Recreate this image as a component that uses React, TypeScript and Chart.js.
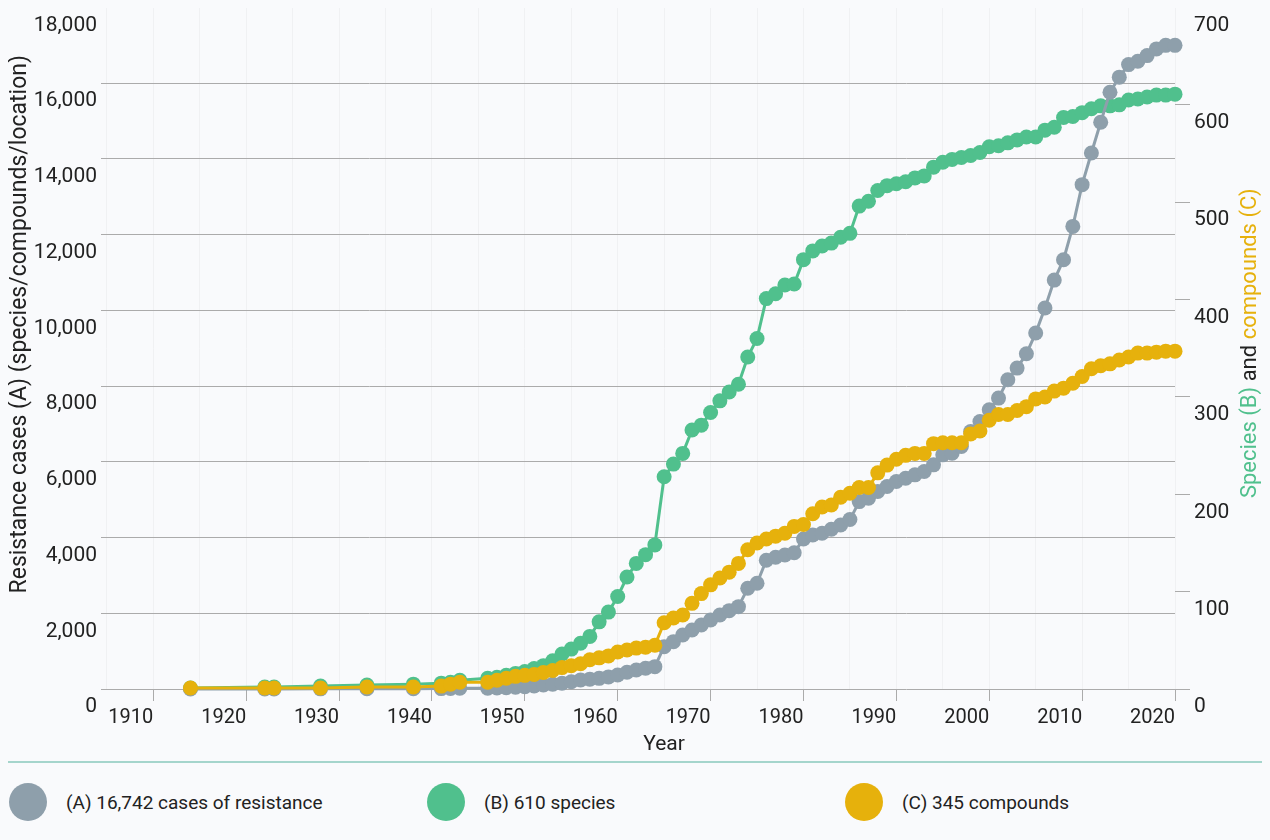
import React, { useEffect, useRef } from 'react';
import { Chart, registerables } from 'chart.js';

Chart.register(...registerables);

// ---------- data ----------
const years = [
  1914, 1922, 1923, 1928, 1933, 1938, 1941, 1942, 1943,
  1946, 1947, 1948, 1949, 1950, 1951, 1952, 1953, 1954, 1955,
  1956, 1957, 1958, 1959, 1960, 1961, 1962, 1963, 1964, 1965,
  1966, 1967, 1968, 1969, 1970, 1971, 1972, 1973, 1974, 1975,
  1976, 1977, 1978, 1979, 1980, 1981, 1982, 1983, 1984, 1985,
  1986, 1987, 1988, 1989, 1990, 1991, 1992, 1993, 1994, 1995,
  1996, 1997, 1998, 1999, 2000, 2001, 2002, 2003, 2004, 2005,
  2006, 2007, 2008, 2009, 2010, 2011, 2012, 2013, 2014, 2015,
  2016, 2017, 2018, 2019, 2020,
];

// (A) cumulative cases of resistance (left axis)
const casesA = [
  1, 2, 3, 4, 5, 7, 10, 14, 18,
  22, 28, 36, 48, 61, 82, 106, 128, 150, 190,
  238, 260, 282, 320, 370, 441, 502, 547, 590, 1118,
  1250, 1427, 1559, 1692, 1824, 1956, 2070, 2175, 2661, 2793,
  3400, 3480, 3541, 3600, 3960, 4070, 4114, 4220, 4330, 4475,
  4950, 5040, 5215, 5348, 5480, 5568, 5656, 5744, 5920, 6185,
  6229, 6404, 6800, 7065, 7374, 7683, 8167, 8476, 8854, 9401,
  10062, 10800, 11338, 12218, 13321, 14158, 14968, 15760, 16160, 16492,
  16580, 16730, 16907, 17000, 17000,
];

// (B) cumulative species (right axis)
const speciesB = [
  1, 2, 2, 3, 4, 5, 6, 7, 9,
  11, 12, 14, 16, 18, 21, 24, 29, 36, 41,
  47, 54, 69, 79, 95, 115, 129, 138, 148, 218,
  231, 242, 266, 271, 284, 296, 305, 313, 341, 360,
  401, 406, 415, 416, 441, 450, 455, 458, 464, 468,
  496, 501, 512, 517, 519, 521, 525, 527, 536, 541,
  544, 546, 548, 551, 557, 558, 561, 564, 567, 567,
  574, 577, 587, 588, 592, 596, 599, 599, 600, 605,
  606, 608, 610, 610, 611,
];

// (C) cumulative compounds (right axis)
const compoundsC = [
  1, 1, 1, 1, 2, 2, 3, 5, 7,
  7, 9, 11, 13, 14, 15, 17, 19, 22, 24,
  26, 30, 32, 34, 38, 40, 42, 43, 45, 68,
  73, 76, 88, 98, 107, 114, 120, 129, 143, 150,
  154, 157, 160, 167, 169, 180, 187, 189, 197, 201,
  207, 207, 222, 230, 236, 240, 242, 242, 252, 253,
  253, 253, 262, 265, 276, 282, 282, 286, 290, 298,
  300, 306, 309, 314, 321, 329, 332, 334, 338, 341,
  345, 345, 346, 347, 347,
];

const xGridYears = [
  1905, 1910, 1915, 1920, 1925, 1930, 1935, 1940, 1945, 1950, 1955, 1960,
  1965, 1970, 1975, 1980, 1985, 1990, 1995, 2000, 2005, 2010, 2015, 2020,
];
const xLabelYears = [1910, 1920, 1930, 1940, 1950, 1960, 1970, 1980, 1990, 2000, 2010, 2020];
const leftTicks = [0, 2000, 4000, 6000, 8000, 10000, 12000, 14000, 16000, 18000];
const rightTicks = [0, 100, 200, 300, 400, 500, 600, 700];

const legendLabels = ['(A) 16,742 cases of resistance', '(B) 610 species', '(C) 345 compounds'];
const xTitle = 'Year';
const leftTitle = 'Resistance cases (A) (species/compounds/location)';
const rightTitleParts = ['Species (B)', ' and ', 'compounds (C)'];

// ---------- style ----------
const GREY = '#8e9fab';
const GREEN = '#50c08d';
const YELLOW = '#e6b10c';
const TEXT = '#222222';
const GRID = '#ababab';
const BG = '#f9fafc';
const FONT = 'Roboto';

const titlesPlugin = {
  id: 'customTitles',
  afterDraw(chart: any) {
    const { ctx, chartArea } = chart;
    const midY = (chartArea.top + chartArea.bottom) / 2;
    ctx.save();
    ctx.fillStyle = TEXT;
    ctx.textBaseline = 'middle';

    // x title
    ctx.font = `21px ${FONT}`;
    ctx.textAlign = 'center';
    ctx.fillText(xTitle, (chartArea.left + chartArea.right) / 2 + 26, chartArea.bottom + 56);

    // left title
    ctx.font = `23px ${FONT}`;
    ctx.save();
    ctx.translate(12, midY - 24);
    ctx.rotate(-Math.PI / 2);
    ctx.textAlign = 'center';
    ctx.fillText(leftTitle, 0, 0);
    ctx.restore();

    // right title (multi-colour)
    ctx.font = `22px ${FONT}`;
    const colors = [GREEN, TEXT, YELLOW];
    const widths = rightTitleParts.map((t) => ctx.measureText(t).width);
    const total = widths.reduce((a, b) => a + b, 0);
    ctx.save();
    ctx.translate(chart.width - 12, midY - 5);
    ctx.rotate(-Math.PI / 2);
    ctx.textAlign = 'left';
    let pos = -total / 2;
    rightTitleParts.forEach((t, i) => {
      ctx.fillStyle = colors[i];
      ctx.fillText(t, pos, 0);
      pos += widths[i];
    });
    ctx.restore();
    ctx.restore();
  },
};

export default function App() {
  const canvasRef = useRef<HTMLCanvasElement | null>(null);

  useEffect(() => {
    document.body.style.backgroundColor = BG;
    const canvas = canvasRef.current;
    if (!canvas) return;

    const common = {
      borderWidth: 3,
      pointRadius: 7.5,
      pointHoverRadius: 7.5,
      pointBorderWidth: 0,
      tension: 0,
      fill: false,
      clip: false as any,
    };

    const chart = new Chart(canvas, {
      type: 'line',
      data: {
        datasets: [
          {
            ...common,
            label: legendLabels[0],
            data: years.map((yr, i) => ({ x: yr, y: casesA[i] })),
            borderColor: GREY,
            backgroundColor: GREY,
            pointBackgroundColor: GREY,
            yAxisID: 'yLeft',
            order: 2,
          },
          {
            ...common,
            label: legendLabels[1],
            data: years.map((yr, i) => ({ x: yr, y: speciesB[i] })),
            borderColor: GREEN,
            backgroundColor: GREEN,
            pointBackgroundColor: GREEN,
            yAxisID: 'yRight',
            order: 3,
          },
          {
            ...common,
            label: legendLabels[2],
            data: years.map((yr, i) => ({ x: yr, y: compoundsC[i] })),
            borderColor: YELLOW,
            backgroundColor: YELLOW,
            pointBackgroundColor: YELLOW,
            yAxisID: 'yRight',
            order: 1,
          },
        ],
      },
      options: {
        animation: false,
        responsive: true,
        maintainAspectRatio: false,
        locale: 'en-US',
        events: [],
        layout: { padding: 0 },
        plugins: {
          legend: { display: false },
          tooltip: { enabled: false },
        },
        scales: {
          x: {
            type: 'linear',
            min: 1904.37,
            max: 2020,
            afterBuildTicks: (s: any) => {
              s.ticks = xGridYears.map((v) => ({ value: v }));
            },
            afterFit: (s: any) => {
              s.height = 69;
            },
            ticks: {
              autoSkip: false,
              maxRotation: 0,
              minRotation: 0,
              align: 'end',
              padding: 5,
              color: TEXT,
              font: { family: FONT, size: 20 },
              callback: (v: any) => (xLabelYears.includes(Number(v)) ? String(v) : ''),
            },
            grid: {
              color: 'rgba(0,0,0,0.035)',
              lineWidth: 1,
              drawTicks: true,
              tickLength: 12,
              tickColor: (c: any) =>
                c.tick && xLabelYears.includes(c.tick.value) ? GRID : 'rgba(0,0,0,0)',
            },
            border: { display: false },
          },
          yLeft: {
            type: 'linear',
            position: 'left',
            min: 0,
            max: 18000,
            afterBuildTicks: (s: any) => {
              s.ticks = leftTicks.map((v) => ({ value: v }));
            },
            afterFit: (s: any) => {
              s.width = 93;
            },
            ticks: {
              align: 'start',
              labelOffset: 7.5,
              padding: 4,
              color: TEXT,
              font: { family: FONT, size: 21 },
            },
            grid: { color: GRID, lineWidth: 1, drawTicks: false },
            border: { display: false },
          },
          yRight: {
            type: 'linear',
            position: 'right',
            min: 0,
            max: 700,
            afterBuildTicks: (s: any) => {
              s.ticks = rightTicks.map((v) => ({ value: v }));
            },
            afterFit: (s: any) => {
              s.width = 87;
            },
            ticks: {
              align: 'start',
              labelOffset: 7.5,
              padding: 4,
              color: TEXT,
              font: { family: FONT, size: 21 },
            },
            grid: {
              drawOnChartArea: false,
              drawTicks: true,
              tickLength: 15,
              tickColor: GRID,
              lineWidth: 1,
            },
            border: { display: false },
          },
        },
      } as any,
      plugins: [titlesPlugin],
    });

    return () => {
      chart.destroy();
    };
  }, []);

  const legendColors = [GREY, GREEN, YELLOW];

  return (
    <div style={{ fontFamily: FONT }}>
      <div style={{ position: 'relative', height: 758, marginTop: -8 }}>
        <canvas ref={canvasRef} />
      </div>
      <div
        style={{
          marginTop: 3,
          borderTop: '2px solid #a5d5cc',
          height: 78,
          display: 'flex',
          alignItems: 'center',
          fontSize: 19,
          color: TEXT,
        }}
      >
        {legendLabels.map((label, i) => (
          <div
            key={label}
            style={{ flex: '1 1 0', display: 'flex', alignItems: 'center', paddingLeft: 1 }}
          >
            <span
              style={{
                width: 38,
                height: 38,
                borderRadius: '50%',
                background: legendColors[i],
                marginRight: 19,
                flexShrink: 0,
                display: 'inline-block',
              }}
            />
            <span>{label}</span>
          </div>
        ))}
      </div>
    </div>
  );
}
